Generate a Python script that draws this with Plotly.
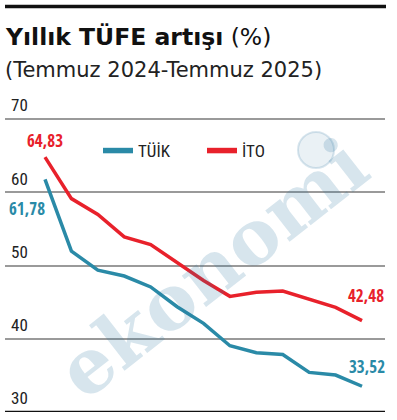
import plotly.graph_objects as go

months = ["Tem 24", "Ağu 24", "Eyl 24", "Eki 24", "Kas 24", "Ara 24", "Oca 25",
          "Şub 25", "Mar 25", "Nis 25", "May 25", "Haz 25", "Tem 25"]
tuik = [61.78, 51.97, 49.38, 48.58, 47.09, 44.38, 42.12, 39.05, 38.10, 37.86, 35.41, 35.05, 33.52]
ito = [64.83, 59.16, 56.99, 53.93, 52.89, 50.49, 47.98, 45.80, 46.36, 46.54, 45.41, 44.29, 42.48]
y_ticks = [30, 40, 50, 60, 70]
series_names = ["TÜİK", "İTO"]

TEAL = "#2a8aa7"
RED = "#e8212b"
COND = "Roboto Condensed, DejaVu Sans Condensed, sans-serif"
COND_B = "Open Sans Condensed, Roboto Condensed, sans-serif"

W, H = 397, 420
Y0, Y1 = 30, 74
unit = (412 - 119) / 40.0
T = int(round(412 - (Y1 - Y0) * unit))
B = H - 412
L, R = 5, 12
pw, ph = W - L - R, H - T - B


def px(x):
    return (x - L) / pw


def py(y):
    return (H - B - y) / ph


fig = go.Figure()
for vals, name, col in [(tuik, series_names[0], TEAL), (ito, series_names[1], RED)]:
    fig.add_trace(go.Scatter(x=months, y=vals, mode="lines", name=name, showlegend=False,
                             legendgroup=name, line=dict(color=col, width=3.5)))
    # legend swatch (thicker, like the reference key)
    fig.add_trace(go.Scatter(x=[None], y=[None], mode="lines", name=name, legendgroup=name,
                             line=dict(color=col, width=5.5)))

fig.update_layout(
    width=W, height=H,
    margin=dict(l=L, r=R, t=T, b=B),
    paper_bgcolor="white", plot_bgcolor="white",
    showlegend=True,
    legend=dict(orientation="h", x=px(98), y=py(151), yanchor="middle", xanchor="left",
                font=dict(family=COND, size=17, color="#222"),
                bgcolor="rgba(0,0,0,0)", entrywidth=59, tracegroupgap=0),
    xaxis=dict(range=[-1.514, 12.87], showgrid=False, showticklabels=False,
               zeroline=False, showline=False, ticks=""),
    yaxis=dict(range=[Y0, Y1], tickvals=y_ticks, ticktext=[str(v) for v in y_ticks],
               showgrid=True, gridcolor="#9a9a9a", gridwidth=1.6, zeroline=False,
               ticklabelposition="inside top", ticklabelstandoff=3, ticklabelshift=-2,
               tickfont=dict(family=COND, size=17, color="#222"), ticks="",
               showline=False),
)

# bottom baseline and top rule
fig.add_shape(type="line", xref="paper", yref="y", x0=0, x1=1, y0=Y0, y1=Y0,
              line=dict(color="#111", width=2.5))
fig.add_shape(type="line", xref="paper", yref="paper", x0=0, x1=px(386), y0=py(6.5), y1=py(6.5),
              line=dict(color="#111", width=3.5))

# watermark (globe + word)
fig.add_shape(type="circle", xref="paper", yref="paper",
              x0=px(298), x1=px(334), y0=py(168), y1=py(132),
              fillcolor="rgba(45,115,160,0.10)", line=dict(color="rgba(45,115,160,0.18)", width=2))
fig.add_annotation(text="<b>ekonomi</b>", xref="paper", yref="paper", x=px(212), y=py(268),
                   showarrow=False, textangle=-38,
                   font=dict(family="DejaVu Serif, serif", size=76, color="rgba(45,115,160,0.19)"))

# titles
fig.add_annotation(text="<b>Yıllık TÜFE artışı</b> (%)", xref="paper", yref="paper",
                   x=px(3), y=py(37), xanchor="left", yanchor="middle", showarrow=False,
                   font=dict(family="DejaVu Sans, sans-serif", size=23.5, color="#111"))
fig.add_annotation(text="(Temmuz 2024-Temmuz 2025)", xref="paper", yref="paper",
                   x=px(3), y=py(70), xanchor="left", yanchor="middle", showarrow=False,
                   font=dict(family="DejaVu Sans, sans-serif", size=21, color="#222"))

# value labels
fig.add_annotation(text="<b>64,83</b>", x=months[0], y=ito[0], xshift=0, yshift=17,
                   showarrow=False, font=dict(family=COND_B, size=17, color=RED))
fig.add_annotation(text="<b>61,78</b>", x=months[0], y=tuik[0], xshift=-18, yshift=-29,
                   showarrow=False, font=dict(family=COND_B, size=17, color=TEAL))
fig.add_annotation(text="<b>42,48</b>", x=months[-1], y=ito[-1], xshift=4, yshift=25,
                   showarrow=False, font=dict(family=COND_B, size=17, color=RED))
fig.add_annotation(text="<b>33,52</b>", x=months[-1], y=tuik[-1], xshift=5, yshift=20,
                   showarrow=False, font=dict(family=COND_B, size=17, color=TEAL))

fig.write_html("out.html", config={"displayModeBar": False},
               post_script="document.body.style.margin='0';")
